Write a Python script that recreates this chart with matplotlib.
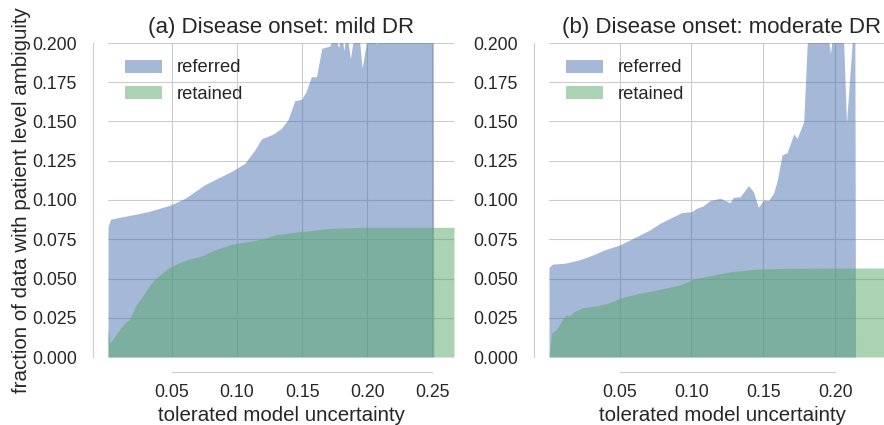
import numpy as np
import matplotlib
matplotlib.use('Agg')
import matplotlib.pyplot as plt
import seaborn as sns

# mild DR onset
mild_ref_x = [0.001, 0.003, 0.010, 0.019, 0.032, 0.049, 0.060, 0.075, 0.085, 0.093,
              0.0995, 0.106, 0.1136, 0.1187, 0.1277, 0.134, 0.139, 0.1444, 0.1495, 0.153,
              0.157, 0.161, 0.165, 0.171, 0.175, 0.178, 0.180, 0.182, 0.184, 0.187,
              0.190, 0.193, 0.196, 0.199, 0.202, 0.2065, 0.210, 0.220, 0.235, 0.2505, 0.251]
mild_ref_y = [0.083, 0.0877, 0.0890, 0.0904, 0.0926, 0.0968, 0.1010, 0.1096, 0.1138, 0.1170,
              0.1200, 0.1234, 0.1318, 0.1389, 0.1420, 0.1456, 0.1510, 0.1633, 0.1641, 0.1690,
              0.1785, 0.1785, 0.1966, 0.1980, 0.2050, 0.1970, 0.2080, 0.1950, 0.2080, 0.1900,
              0.2060, 0.2100, 0.1840, 0.1990, 0.2150, 0.1990, 0.2200, 0.2300, 0.2400, 0.2400, 0.0]
mild_ret_x = [0.001, 0.0026, 0.0085, 0.0136, 0.0175, 0.0226, 0.029, 0.034, 0.039, 0.047,
              0.0546, 0.0623, 0.0726, 0.0828, 0.0956, 0.1085, 0.1187, 0.129, 0.147, 0.1725,
              0.198, 0.2665]
mild_ret_y = [0.0183, 0.0087, 0.0161, 0.0214, 0.0240, 0.0331, 0.0405, 0.0469, 0.0511, 0.0565,
              0.0597, 0.0622, 0.0643, 0.0682, 0.0718, 0.0735, 0.0750, 0.0777, 0.0798, 0.0820,
              0.0826, 0.0826]

# moderate DR onset
mod_ref_x = [0.001, 0.0035, 0.0117, 0.022, 0.0314, 0.0407, 0.050, 0.0617, 0.071, 0.078,
             0.0884, 0.093, 0.100, 0.1036, 0.108, 0.1128, 0.1198, 0.1268, 0.129, 0.1338,
             0.1396, 0.143, 0.1465, 0.150, 0.1535, 0.157, 0.1594, 0.1629, 0.1664, 0.171,
             0.1734, 0.178, 0.1803, 0.183, 0.190, 0.194, 0.1966, 0.199, 0.205, 0.2077,
             0.2124, 0.2135, 0.214]
mod_ref_y = [0.0571, 0.0592, 0.0597, 0.0618, 0.0650, 0.0686, 0.0713, 0.0766, 0.0809, 0.0851,
             0.0898, 0.0919, 0.0926, 0.0947, 0.0962, 0.0996, 0.1011, 0.0983, 0.1017, 0.1021,
             0.1091, 0.1053, 0.0953, 0.1000, 0.0996, 0.1043, 0.1117, 0.1287, 0.1301, 0.1420,
             0.1393, 0.1499, 0.1977, 0.2200, 0.2300, 0.2100, 0.1930, 0.2150, 0.2200, 0.1488,
             0.2100, 0.2100, 0.0]
mod_ret_x = [0.001, 0.0028, 0.0059, 0.0094, 0.0128, 0.0151, 0.0186, 0.0244, 0.0338, 0.043,
             0.050, 0.064, 0.078, 0.0919, 0.1012, 0.1151, 0.1268, 0.1454, 0.1687, 0.2414]
mod_ret_y = [0.0, 0.0151, 0.0172, 0.0225, 0.0268, 0.0261, 0.0289, 0.0314, 0.0325, 0.0346,
             0.0374, 0.0406, 0.0431, 0.0459, 0.0495, 0.0522, 0.0543, 0.0560, 0.0565, 0.0567]

sns.set_style('whitegrid')
plt.rcParams['font.family'] = ['Liberation Sans', 'DejaVu Sans']
blue, green = '#4C72B0', '#55A868'

fig = plt.figure(figsize=(8.84, 4.25), dpi=100)
w, h = 346 / 884, 314 / 425
ax1 = fig.add_axes([108 / 884, 68 / 425, w, h])
ax2 = fig.add_axes([549 / 884, 68 / 425, w, h])

panels = [(ax1, '(a) Disease onset: mild DR', mild_ref_x, mild_ref_y, mild_ret_x, mild_ret_y, 0.2665),
          (ax2, '(b) Disease onset: moderate DR', mod_ref_x, mod_ref_y, mod_ret_x, mod_ret_y, 0.2414)]

for ax, title, rx, ry, tx, ty, xmax in panels:
    ax.fill_between(rx, 0, ry, color=blue, alpha=0.5, lw=0, label='referred')
    ax.fill_between(tx, 0, ty, color=green, alpha=0.5, lw=0, label='retained')
    ax.set_xlim(0.001, xmax)
    ax.set_ylim(0, 0.2)
    ax.set_yticks(np.arange(0, 0.2001, 0.025))
    ax.yaxis.set_major_formatter(plt.FormatStrFormatter('%.3f'))
    ax.xaxis.set_major_formatter(plt.FormatStrFormatter('%.2f'))
    ax.tick_params(axis='y', labelsize=12.7, pad=8, colors='.15')
    ax.tick_params(axis='x', labelsize=12.7, pad=5, colors='.15')
    ax.set_title(title, fontsize=16, color='.15', pad=7.5)
    ax.set_xlabel('tolerated model uncertainty', fontsize=14.8, color='.15', labelpad=4)
    ax.legend(loc='upper left', frameon=False, fontsize=13.2, handlelength=2.07)
    sns.despine(ax=ax, offset=10.8, trim=True)

ax1.set_ylabel('fraction of data with patient level ambiguity', fontsize=14.8, color='.15', labelpad=1)

fig.savefig('out.png', dpi=100)
